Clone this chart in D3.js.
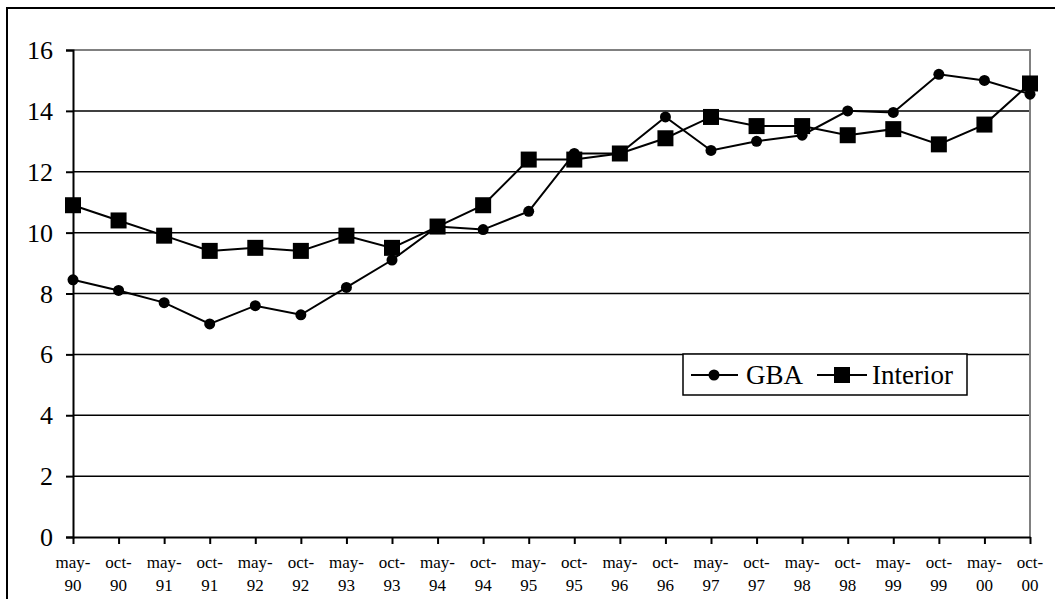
<!DOCTYPE html>
<html>
<head>
<meta charset="utf-8">
<script src="https://cdn.jsdelivr.net/npm/d3@7"></script>
</head>
<body style="margin:0">
<svg id="fig" width="1055" height="599"></svg>
<script>
// data
const periods = ["may-90","oct-90","may-91","oct-91","may-92","oct-92","may-93","oct-93",
  "may-94","oct-94","may-95","oct-95","may-96","oct-96","may-97","oct-97",
  "may-98","oct-98","may-99","oct-99","may-00","oct-00"];
const gba = [8.45, 8.1, 7.7, 7.0, 7.6, 7.3, 8.2, 9.1, 10.2, 10.1, 10.7, 12.6,
  12.6, 13.8, 12.7, 13.0, 13.2, 14.0, 13.95, 15.2, 15.0, 14.55];
const interior = [10.9, 10.4, 9.9, 9.4, 9.5, 9.4, 9.9, 9.5, 10.2, 10.9, 12.4, 12.4,
  12.6, 13.1, 13.8, 13.5, 13.5, 13.2, 13.4, 12.9, 13.55, 14.9];
const yTicks = [0, 2, 4, 6, 8, 10, 12, 14, 16];

const fontName = "Liberation Serif";
const svg = d3.select("#fig");
const plot = { left: 73, right: 1030, top: 50, bottom: 537 };

// outer chart frame (runs off the right and bottom of the image)
svg.append("rect")
  .attr("x", 7).attr("y", 8)
  .attr("width", 1200).attr("height", 800)
  .attr("fill", "none").attr("stroke", "#000").attr("stroke-width", 2);

const x = d3.scalePoint().domain(periods).range([plot.left, plot.right]);
const y = d3.scaleLinear().domain([0, 16]).range([plot.bottom, plot.top]);

// gridlines
svg.append("g").selectAll("line.grid")
  .data(yTicks.filter(d => d > 0 && d < 16))
  .enter()
  .append("line")
  .attr("class", "grid")
  .attr("x1", plot.left).attr("x2", plot.right)
  .attr("y1", d => y(d)).attr("y2", d => y(d))
  .attr("stroke", "#000").attr("stroke-width", 1.5);

// grey plot border (top and right)
svg.append("path")
  .attr("d", `M${plot.left},${plot.top}H${plot.right}V${plot.bottom}`)
  .attr("fill", "none").attr("stroke", "#808080").attr("stroke-width", 2);

// y axis: ticks and line from d3, labels drawn as own texts
const yAxis = svg.append("g")
  .attr("transform", `translate(${plot.left},0)`)
  .call(d3.axisLeft(y).tickValues(yTicks).tickSize(7).tickFormat(""));
yAxis.select(".domain").attr("stroke-width", 2);
yAxis.selectAll(".tick line").attr("stroke-width", 2);

svg.selectAll("text.ylab")
  .data(yTicks)
  .enter()
  .append("text")
  .attr("class", "ylab")
  .attr("x", plot.left - 20)
  .attr("y", d => y(d) + 9)
  .attr("text-anchor", "end")
  .attr("font-size", 26)
  .style("font-family", `"${fontName}"`)
  .text(d => d);

// x axis
const xAxis = svg.append("g")
  .attr("transform", `translate(0,${plot.bottom})`)
  .call(d3.axisBottom(x).tickSize(7).tickSizeOuter(0).tickFormat(""));
xAxis.select(".domain").attr("stroke-width", 2);
xAxis.selectAll(".tick line").attr("stroke-width", 2);

svg.selectAll("text.xtop")
  .data(periods)
  .enter()
  .append("text")
  .attr("class", "xtop")
  .attr("x", d => x(d))
  .attr("y", plot.bottom + 31)
  .attr("text-anchor", "middle")
  .attr("font-size", 17)
  .style("font-family", `"${fontName}"`)
  .text(d => d.split("-")[0] + "-");

svg.selectAll("text.xbot")
  .data(periods)
  .enter()
  .append("text")
  .attr("class", "xbot")
  .attr("x", d => x(d))
  .attr("y", plot.bottom + 54)
  .attr("text-anchor", "middle")
  .attr("font-size", 17)
  .style("font-family", `"${fontName}"`)
  .text(d => d.split("-")[1]);

const line = d3.line().x((d, i) => x(periods[i])).y(d => y(d));

// GBA series
svg.append("path").datum(gba)
  .attr("d", line).attr("fill", "none")
  .attr("stroke", "#000").attr("stroke-width", 2);
svg.append("g").selectAll("circle")
  .data(gba).enter().append("circle")
  .attr("cx", (d, i) => x(periods[i]))
  .attr("cy", d => y(d))
  .attr("r", 5.5).attr("fill", "#000");

// Interior series
const sq = 16;
svg.append("path").datum(interior)
  .attr("d", line).attr("fill", "none")
  .attr("stroke", "#000").attr("stroke-width", 2);
svg.append("g").selectAll("rect")
  .data(interior).enter().append("rect")
  .attr("x", (d, i) => x(periods[i]) - sq / 2)
  .attr("y", d => y(d) - sq / 2)
  .attr("width", sq).attr("height", sq)
  .attr("fill", "#000");

// legend
svg.append("rect")
  .attr("x", 683).attr("y", 354)
  .attr("width", 284).attr("height", 41)
  .attr("fill", "#fff").attr("stroke", "#000").attr("stroke-width", 1.5);
svg.append("line").attr("x1", 691).attr("x2", 738).attr("y1", 375).attr("y2", 375)
  .attr("stroke", "#000").attr("stroke-width", 2);
svg.append("circle").attr("cx", 714).attr("cy", 375).attr("r", 5.5).attr("fill", "#000");
svg.append("line").attr("x1", 817).attr("x2", 867).attr("y1", 375).attr("y2", 375)
  .attr("stroke", "#000").attr("stroke-width", 2);
svg.append("rect").attr("x", 834).attr("y", 367).attr("width", sq).attr("height", sq).attr("fill", "#000");
svg.selectAll("text.leg")
  .data([{ t: "GBA", x: 746 }, { t: "Interior", x: 872 }])
  .enter()
  .append("text")
  .attr("class", "leg")
  .attr("x", d => d.x)
  .attr("y", 384)
  .attr("font-size", 27)
  .style("font-family", `"${fontName}"`)
  .text(d => d.t);
</script>
</body>
</html>
